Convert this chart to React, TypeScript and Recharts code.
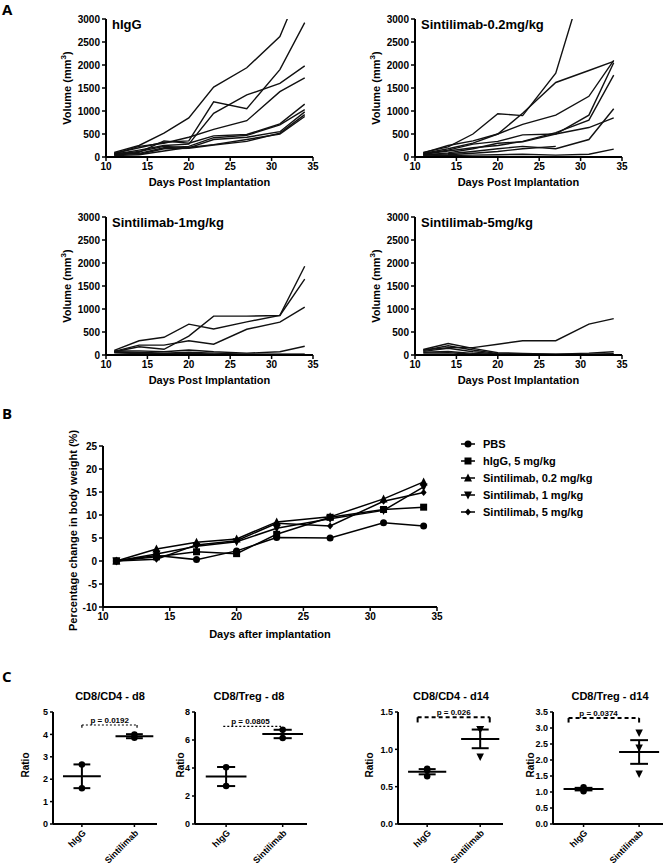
import React from "react";
import {
  LineChart,
  Line,
  XAxis,
  YAxis,
  Legend,
  ScatterChart,
  Scatter,
  ReferenceLine,
  ReferenceDot,
  Label,
} from "recharts";

const FONT = "'Liberation Sans', Arial, Helvetica, sans-serif";

// ---------- Panel A: tumour volume per mouse ----------
const DAYS = [11, 14, 17, 20, 23, 27, 31, 34];
const DAY_TICKS = [10, 15, 20, 25, 30, 35];
const VOLUME_TICKS = [0, 500, 1000, 1500, 2000, 2500, 3000];

const HIGG_VOLUME = [
  [100, 250, 520, 850, 1520, 1940, 2620, 3900],
  [80, 200, 320, 350, 1200, 1050, 1900, 2920],
  [60, 150, 250, 280, 950, 1350, 1600, 1980],
  [70, 230, 300, 430, 600, 790, 1420, 1720],
  [50, 100, 350, 300, 460, 490, 720, 1150],
  [40, 80, 200, 230, 420, 470, 700, 1030],
  [60, 120, 230, 200, 380, 430, 550, 980],
  [30, 50, 130, 210, 270, 380, 500, 880],
  [90, 60, 180, 190, 260, 340, 520, 920],
];

const S02_VOLUME = [
  [100, 220, 500, 940, 900, 1820, 4200, null],
  [90, 250, 350, 500, 950, 1620, 1880, 2080],
  [80, 180, 300, 500, 710, 910, 1320, 2100],
  [70, 150, 280, 340, 480, 500, 910, 2050],
  [60, 130, 200, 250, 340, 530, 800, 1780],
  [40, 90, 180, 300, 330, 500, 640, 850],
  [50, 70, 120, 180, 230, 180, 380, 1050],
  [40, 50, 80, 120, 180, 230, null, null],
  [40, 30, 40, 50, 60, 40, 60, 170],
];

const S1_VOLUME = [
  [100, 310, 385, 670, 565, 720, 860, 1930],
  [80, 215, 215, 310, 235, 560, 715, 1040],
  [70, 180, 125, 410, 845, 845, 860, 1650],
  [90, 90, 70, 110, 70, 40, 70, 190],
  [70, 60, 40, 60, 40, 20, 20, 20],
  [60, 40, 30, 40, 20, 10, 10, 10],
  [50, 30, 20, 20, 10, 0, 0, 0],
];

const S5_VOLUME = [
  [110, 160, 160, 235, 310, 310, 670, 790],
  [120, 250, 145, 50, 35, 20, 40, 70],
  [100, 200, 110, 30, 20, 10, 20, 30],
  [80, 145, 70, 20, 10, 10, 10, 10],
  [60, 75, 35, 10, 5, 0, 0, 0],
  [40, 50, 20, 5, 0, 0, 0, 0],
];

// ---------- Panel B: body weight ----------
const WEIGHT_TICKS = [-10, -5, 0, 5, 10, 15, 20, 25];
const PBS_WEIGHT = [0, 1.2, 0.3, 2.2, 5.1, 5.0, 8.3, 7.6];
const HIGG_WEIGHT = [0, 0.9, 2.0, 1.6, 5.8, 9.5, 11.2, 11.7];
const S02_WEIGHT = [0, 2.6, 4.1, 4.8, 8.5, 9.6, 13.5, 17.2];
const S1_WEIGHT = [0, 1.5, 3.2, 4.2, 7.1, 9.2, 11.0, 16.1];
const S5_WEIGHT = [0, 0.4, 3.5, 4.4, 8.2, 7.6, 13.0, 14.9];

const WEIGHT_SERIES = [
  { key: "pbs", name: "PBS", shape: "circle", values: PBS_WEIGHT },
  { key: "higg", name: "hIgG, 5 mg/kg", shape: "square", values: HIGG_WEIGHT },
  { key: "s02", name: "Sintilimab, 0.2 mg/kg", shape: "up", values: S02_WEIGHT },
  { key: "s1", name: "Sintilimab, 1 mg/kg", shape: "down", values: S1_WEIGHT },
  { key: "s5", name: "Sintilimab, 5 mg/kg", shape: "diamond", values: S5_WEIGHT },
];

// ---------- Panel C: ratios ----------
const GROUPS = ["hIgG", "Sintilimab"];
const CAT_DOMAIN = [0.45, 2.43];

const CD4_D8_HIGG = [2.66, 1.6];
const CD4_D8_SINT = [4.0, 3.85];
const CD4_D8_MEAN = [2.13, 3.92];
const CD4_D8_SEM = [0.53, 0.09];

const TREG_D8_HIGG = [4.06, 2.71];
const TREG_D8_SINT = [6.74, 6.15];
const TREG_D8_MEAN = [3.39, 6.43];
const TREG_D8_SEM = [0.68, 0.3];

const CD4_D14_HIGG = [0.74, 0.72, 0.64];
const CD4_D14_SINT = [1.27, 1.27, 0.9];
const CD4_D14_MEAN = [0.7, 1.14];
const CD4_D14_SEM = [0.035, 0.125];

const TREG_D14_HIGG = [1.15, 1.1, 1.02];
const TREG_D14_SINT = [2.85, 2.38, 1.57];
const TREG_D14_MEAN = [1.09, 2.25];
const TREG_D14_SEM = [0.04, 0.37];

const tickFont = { fontSize: 10, fontWeight: "bold", fill: "#000", fontFamily: FONT };
const axisLineStyle = { stroke: "#000", strokeWidth: 2 };
const tickLineStyle = { stroke: "#000", strokeWidth: 1.5 };

function toRows(lines: (number | null)[][]) {
  return DAYS.map((day, i) => {
    const row: any = { day };
    lines.forEach((l, j) => {
      row[`m${j}`] = l[i];
    });
    return row;
  });
}

function Marker({ shape, cx, cy, size = 7 }: any) {
  const h = size / 2;
  if (cx == null || cy == null) return null;
  if (shape === "square") return <rect x={cx - h} y={cy - h} width={size} height={size} fill="#000" />;
  if (shape === "up")
    return <polygon points={`${cx},${cy - h - 1} ${cx + h + 0.5},${cy + h} ${cx - h - 0.5},${cy + h}`} fill="#000" />;
  if (shape === "down")
    return <polygon points={`${cx},${cy + h + 1} ${cx + h + 0.5},${cy - h} ${cx - h - 0.5},${cy - h}`} fill="#000" />;
  if (shape === "diamond")
    return <polygon points={`${cx},${cy - h} ${cx + h - 0.5},${cy} ${cx},${cy + h} ${cx - h + 0.5},${cy}`} fill="#000" />;
  return <circle cx={cx} cy={cy} r={h} fill="#000" />;
}

function XTitle({ viewBox, text, gap, size = 11 }: any) {
  const vb = viewBox || { x: 0, y: 0, width: 0, height: 0 };
  return (
    <text x={vb.x + vb.width / 2} y={vb.y + gap} textAnchor="middle" fontSize={size} fontWeight="bold" fontFamily={FONT} fill="#000">
      {text}
    </text>
  );
}

function YTitle({ viewBox, children, dist, shift = 0, size = 11 }: any) {
  const vb = viewBox || { x: 0, y: 0, width: 0, height: 0 };
  const cx = vb.x + vb.width - dist;
  const cy = vb.y + vb.height / 2 + shift;
  return (
    <text x={cx} y={cy} dy={4} transform={`rotate(-90 ${cx} ${cy})`} textAnchor="middle" fontSize={size} fontWeight="bold" fontFamily={FONT} fill="#000">
      {children}
    </text>
  );
}

type VolProps = {
  left: number;
  top: number;
  width: number;
  yw: number;
  mr: number;
  mt: number;
  title: string;
  lines: (number | null)[][];
};

function VolumeChart({ left, top, width, yw, mr, mt, title, lines }: VolProps) {
  const rows = toRows(lines);
  const xh = 200 - mt - 138;
  return (
    <div style={{ position: "absolute", left, top, width, height: 200 }}>
      <LineChart width={width} height={200} data={rows} margin={{ top: mt, right: mr, left: 0, bottom: 0 }}>
        <XAxis
          dataKey="day"
          type="number"
          domain={[10, 35]}
          ticks={DAY_TICKS}
          interval={0}
          height={xh}
          tick={tickFont}
          axisLine={axisLineStyle}
          tickLine={tickLineStyle}
          tickSize={4}
        >
          <Label content={(p: any) => <XTitle {...p} text="Days Post Implantation" gap={29} />} />
        </XAxis>
        <YAxis
          type="number"
          domain={[0, 3000]}
          ticks={VOLUME_TICKS}
          interval={0}
          allowDataOverflow
          width={yw}
          tick={tickFont}
          axisLine={axisLineStyle}
          tickLine={tickLineStyle}
          tickSize={4}
        >
          <Label
            content={(p: any) => (
              <YTitle {...p} dist={39}>
                Volume (mm<tspan fontSize={8} dy={-5}>3</tspan>
                <tspan dy={5}>)</tspan>
              </YTitle>
            )}
          />
        </YAxis>
        {lines.map((_, j) => (
          <Line
            key={j}
            type="linear"
            dataKey={`m${j}`}
            stroke="#111"
            strokeWidth={1.4}
            dot={false}
            activeDot={false}
            isAnimationActive={false}
          />
        ))}
      </LineChart>
      <div
        style={{
          position: "absolute",
          left: yw + 6,
          top: mt - 1,
          fontFamily: FONT,
          fontSize: 13,
          lineHeight: "14px",
          fontWeight: "bold",
          whiteSpace: "nowrap",
        }}
      >
        {title}
      </div>
    </div>
  );
}

function WeightLegend() {
  return (
    <div style={{ fontFamily: FONT, fontSize: 11, fontWeight: "bold", color: "#000" }}>
      {WEIGHT_SERIES.map((s) => (
        <div key={s.key} style={{ display: "flex", alignItems: "center", height: 17, whiteSpace: "nowrap" }}>
          <svg width={20} height={12}>
            <line x1={1} x2={15} y1={6} y2={6} stroke="#000" strokeWidth={1.5} />
            <Marker shape={s.shape} cx={8} cy={6} size={7} />
          </svg>
          <span style={{ marginLeft: 3 }}>{s.name}</span>
        </div>
      ))}
    </div>
  );
}

function WeightChart() {
  const rows = DAYS.map((day, i) => {
    const row: any = { day };
    WEIGHT_SERIES.forEach((s) => {
      row[s.key] = s.values[i];
    });
    return row;
  });
  return (
    <div style={{ position: "absolute", left: 0, top: 430, width: 667, height: 220 }}>
      <LineChart width={667} height={220} data={rows} margin={{ top: 16, right: 230, left: 0, bottom: 0 }}>
        <XAxis
          dataKey="day"
          type="number"
          domain={[10, 35]}
          ticks={DAY_TICKS}
          interval={0}
          height={43}
          tick={tickFont}
          axisLine={axisLineStyle}
          tickLine={tickLineStyle}
          tickSize={4}
        >
          <Label content={(p: any) => <XTitle {...p} text="Days after implantation" gap={31} />} />
        </XAxis>
        <YAxis
          type="number"
          domain={[-10, 25]}
          ticks={WEIGHT_TICKS}
          interval={0}
          width={103}
          tick={tickFont}
          axisLine={axisLineStyle}
          tickLine={tickLineStyle}
          tickSize={4}
        >
          <Label
            content={(p: any) => (
              <YTitle {...p} dist={30} shift={4}>
                Percentage change in body weight (%)
              </YTitle>
            )}
          />
        </YAxis>
        <Legend
          layout="vertical"
          align="center"
          verticalAlign="middle"
          content={() => <WeightLegend />}
          wrapperStyle={{ left: 460, top: 5, width: 200 }}
        />
        {WEIGHT_SERIES.map((s) => (
          <Line
            key={s.key}
            type="linear"
            dataKey={s.key}
            stroke="#000"
            strokeWidth={1.5}
            activeDot={false}
            isAnimationActive={false}
            dot={(p: any) => <Marker key={`${s.key}-${p.index}`} shape={s.shape} cx={p.cx} cy={p.cy} size={7} />}
          />
        ))}
      </LineChart>
    </div>
  );
}

type DotProps = {
  left: number;
  width: number;
  yw: number;
  mr: number;
  max: number;
  ticks: number[];
  digits: number;
  higg: number[];
  sint: number[];
  means: number[];
  sems: number[];
  sintShape: string;
  title: string;
  titleX: number;
  ratioDist: number;
  pText: string;
  pY: number;
  pTick: number;
  pSpan: number[];
  pX: number;
  heavy: boolean;
};

function DotPlot(d: DotProps) {
  const pts = [
    d.higg.map((y) => ({ x: 1, y })),
    d.sint.map((y) => ({ x: 2, y })),
  ];
  const shapes = ["circle", d.sintShape];
  const dash = d.heavy ? "4 3" : "2 2";
  const bw = d.heavy ? 2 : 1.2;
  return (
    <div style={{ position: "absolute", left: d.left, top: 700, width: d.width, height: 164 }}>
      <ScatterChart width={d.width} height={164} margin={{ top: 12, right: d.mr, left: 0, bottom: 0 }}>
        <XAxis
          type="number"
          dataKey="x"
          domain={CAT_DOMAIN}
          ticks={[1, 2]}
          interval={0}
          height={40}
          angle={-45}
          textAnchor="end"
          tickFormatter={(v: number) => GROUPS[v - 1]}
          tick={{ ...tickFont, fontSize: 9 }}
          axisLine={axisLineStyle}
          tickLine={tickLineStyle}
          tickSize={3}
        />
        <YAxis
          type="number"
          dataKey="y"
          domain={[0, d.max]}
          ticks={d.ticks}
          interval={0}
          width={d.yw}
          tickFormatter={(v: number) => v.toFixed(d.digits)}
          tick={{ ...tickFont, fontSize: 9 }}
          axisLine={axisLineStyle}
          tickLine={tickLineStyle}
          tickSize={3}
        >
          <Label
            content={(p: any) => (
              <YTitle {...p} dist={d.ratioDist} shift={-3} size={10}>
                Ratio
              </YTitle>
            )}
          />
        </YAxis>
        {d.means.map((m, gi) => {
          const c = gi + 1;
          const lo = m - d.sems[gi];
          const hi = m + d.sems[gi];
          return (
            <React.Fragment key={`g${gi}`}>
              <ReferenceLine segment={[{ x: c - 0.36, y: m }, { x: c + 0.36, y: m }]} stroke="#000" strokeWidth={2} />
              <ReferenceLine segment={[{ x: c, y: lo }, { x: c, y: hi }]} stroke="#000" strokeWidth={2} />
              <ReferenceLine segment={[{ x: c - 0.16, y: lo }, { x: c + 0.16, y: lo }]} stroke="#000" strokeWidth={2} />
              <ReferenceLine segment={[{ x: c - 0.16, y: hi }, { x: c + 0.16, y: hi }]} stroke="#000" strokeWidth={2} />
            </React.Fragment>
          );
        })}
        <ReferenceLine
          segment={[{ x: d.pSpan[0], y: d.pY }, { x: d.pSpan[1], y: d.pY }]}
          stroke="#000"
          strokeWidth={bw}
          strokeDasharray={dash}
        />
        <ReferenceLine segment={[{ x: d.pSpan[0], y: d.pTick }, { x: d.pSpan[0], y: d.pY }]} stroke="#000" strokeWidth={bw} />
        <ReferenceLine segment={[{ x: d.pSpan[1], y: d.pTick }, { x: d.pSpan[1], y: d.pY }]} stroke="#000" strokeWidth={bw} />
        <ReferenceDot
          x={d.pX}
          y={d.pY}
          r={1}
          fill="none"
          stroke="none"
          label={{ value: d.pText, position: "top", offset: 1, fontSize: 8, fontWeight: "bold", fill: "#000", fontFamily: FONT }}
        />
        {pts.map((data, gi) => (
          <Scatter
            key={`s${gi}`}
            data={data}
            isAnimationActive={false}
            shape={(p: any) => <Marker shape={shapes[gi]} cx={p.cx} cy={p.cy} size={6.5} />}
          />
        ))}
      </ScatterChart>
      <div
        style={{
          position: "absolute",
          left: d.titleX - d.left - 60,
          top: -10,
          width: 120,
          textAlign: "center",
          fontFamily: FONT,
          fontSize: 11,
          lineHeight: "12px",
          fontWeight: "bold",
        }}
      >
        {d.title}
      </div>
    </div>
  );
}

const letterStyle: React.CSSProperties = {
  position: "absolute",
  fontFamily: "'Open Sans', Arial, sans-serif",
  fontSize: 15,
  lineHeight: "18px",
  fontWeight: "bold",
};

export default function App() {
  return (
    <div style={{ position: "absolute", left: 0, top: 0, width: 667, height: 864, background: "#fff", overflow: "hidden" }}>
      <div style={{ ...letterStyle, left: 2, top: 0 }}>A</div>
      <div style={{ ...letterStyle, left: 2, top: 404 }}>B</div>
      <div style={{ ...letterStyle, left: 2, top: 667 }}>C</div>

      <VolumeChart left={0} top={0} width={330} yw={106} mr={17} mt={19} title="hIgG" lines={HIGG_VOLUME} />
      <VolumeChart left={330} top={0} width={300} yw={85} mr={8} mt={19} title="Sintilimab-0.2mg/kg" lines={S02_VOLUME} />
      <VolumeChart left={0} top={200} width={330} yw={106} mr={17} mt={17} title="Sintilimab-1mg/kg" lines={S1_VOLUME} />
      <VolumeChart left={330} top={200} width={300} yw={85} mr={8} mt={17} title="Sintilimab-5mg/kg" lines={S5_VOLUME} />

      <WeightChart />

      <DotPlot
        left={0}
        width={170}
        yw={53}
        mr={13}
        max={5}
        ticks={[0, 1, 2, 3, 4, 5]}
        digits={0}
        higg={CD4_D8_HIGG}
        sint={CD4_D8_SINT}
        means={CD4_D8_MEAN}
        sems={CD4_D8_SEM}
        sintShape="circle"
        title="CD8/CD4 - d8"
        titleX={110}
        ratioDist={28}
        pText="p = 0.0192"
        pY={4.42}
        pTick={4.3}
        pSpan={[1, 2.05]}
        pX={1.53}
        heavy={false}
      />
      <DotPlot
        left={160}
        width={160}
        yw={35}
        mr={13}
        max={8}
        ticks={[0, 2, 4, 6, 8]}
        digits={0}
        higg={TREG_D8_HIGG}
        sint={TREG_D8_SINT}
        means={TREG_D8_MEAN}
        sems={TREG_D8_SEM}
        sintShape="circle"
        title="CD8/Treg - d8"
        titleX={249}
        ratioDist={15}
        pText="p = 0.0805"
        pY={6.98}
        pTick={6.98}
        pSpan={[0.95, 1.97]}
        pX={1.43}
        heavy={false}
      />
      <DotPlot
        left={340}
        width={180}
        yw={58}
        mr={17}
        max={1.5}
        ticks={[0, 0.5, 1, 1.5]}
        digits={1}
        higg={CD4_D14_HIGG}
        sint={CD4_D14_SINT}
        means={CD4_D14_MEAN}
        sems={CD4_D14_SEM}
        sintShape="down"
        title="CD8/CD4 - d14"
        titleX={451}
        ratioDist={29}
        pText="p = 0.026"
        pY={1.43}
        pTick={1.36}
        pSpan={[0.82, 2.18]}
        pX={1.5}
        heavy
      />
      <DotPlot
        left={510}
        width={157}
        yw={43}
        mr={4}
        max={3.5}
        ticks={[0, 0.5, 1, 1.5, 2, 2.5, 3, 3.5]}
        digits={1}
        higg={TREG_D14_HIGG}
        sint={TREG_D14_SINT}
        means={TREG_D14_MEAN}
        sems={TREG_D14_SEM}
        sintShape="down"
        title="CD8/Treg - d14"
        titleX={610}
        ratioDist={23}
        pText="p = 0.0374"
        pY={3.31}
        pTick={3.17}
        pSpan={[0.73, 2.0]}
        pX={1.27}
        heavy
      />
    </div>
  );
}
